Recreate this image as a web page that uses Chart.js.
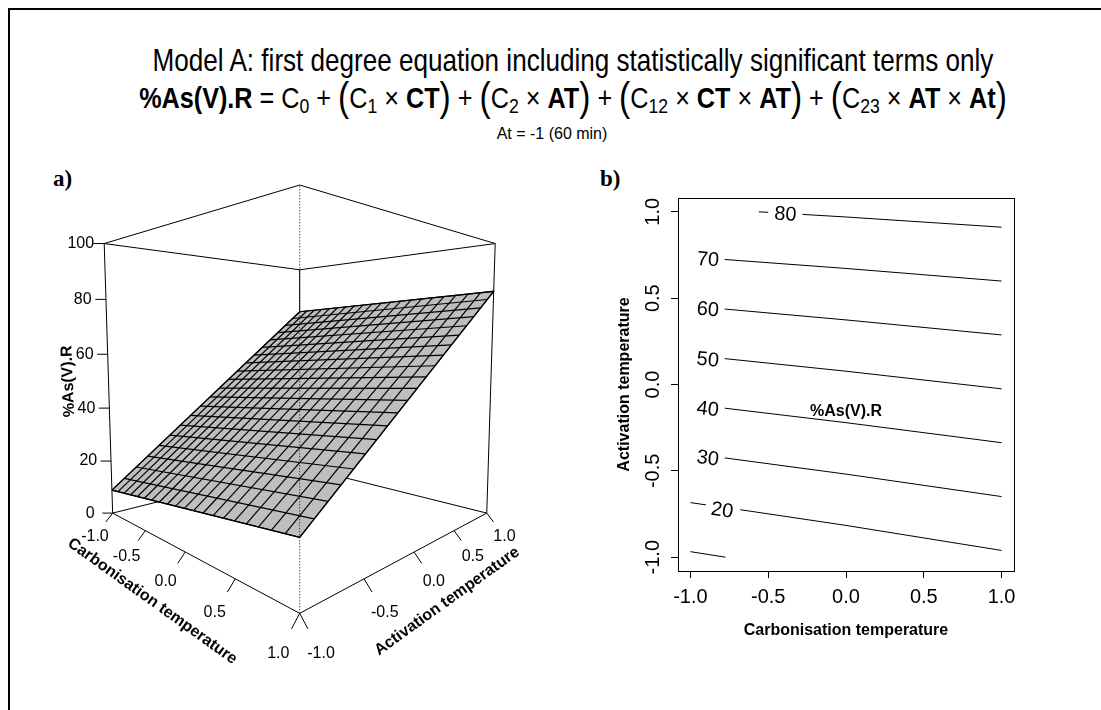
<!DOCTYPE html>
<html>
<head>
<meta charset="utf-8">
<title>Model A</title>
<script src="https://cdn.jsdelivr.net/npm/chart.js@4.4.1/dist/chart.umd.min.js"></script>
<style>
  html, body { margin: 0; padding: 0; background: #fff; }
  body { width: 1101px; height: 710px; position: relative; overflow: hidden; color: #000; }
  .frame { position: absolute; left: 8px; top: 8px; width: 1200px; height: 800px; border-left: 2px solid #000; border-top: 2px solid #000; }
  .hdr { position: absolute; left: 0; width: 1146px; text-align: center; white-space: nowrap;
         font-family: "Liberation Sans", Arial, sans-serif; transform-origin: 50% 50%; }
  #t1 { top: 42px; font-size: 32px; line-height: 36px; transform: scaleX(0.815); }
  #t2 { top: 78px; font-size: 30px; line-height: 40px; transform: scaleX(0.84); }
  #t2 .p { font-size: 40px; vertical-align: -3px; line-height: 0; }
  #t2 sub { font-size: 21px; vertical-align: -5px; line-height: 0; }
  #t3 { top: 126px; width: 1104px; font-size: 16px; line-height: 16px; }
  .tag { position: absolute; font: bold 23px/23px "Liberation Serif", "Times New Roman", serif; }
  canvas { position: absolute; }
</style>
</head>
<body>
<div class="frame"></div>
<div class="hdr" id="t1">Model A: first degree equation including statistically significant terms only</div>
<div class="hdr" id="t2"><b>%As(V).R</b> = C<sub>0</sub> + <span class="p">(</span>C<sub>1</sub> × <b>CT</b><span class="p">)</span> + <span class="p">(</span>C<sub>2</sub> × <b>AT</b><span class="p">)</span> + <span class="p">(</span>C<sub>12</sub> × <b>CT</b> × <b>AT</b><span class="p">)</span> + <span class="p">(</span>C<sub>23</sub> × <b>AT</b> × <b>At</b><span class="p">)</span></div>
<div class="hdr" id="t3">At = -1 (60 min)</div>
<div class="tag" style="left:53px; top:167px;">a)</div>
<div class="tag" style="left:600px; top:167px;">b)</div>
<canvas id="surf" width="580" height="560" style="left:0; top:150px;"></canvas>
<canvas id="cont" width="521" height="560" style="left:580px; top:150px;"></canvas>
<script>
// ---------- panel a) response surface at At = -1 ----------
const surfCT = [-1, 1, 1, -1];          // corners of the fitted surface
const surfAT = [-1, -1, 1, 1];
const surfZ = [8.9, 18.8, 82.9, 79.2];  // %As(V).R at those corners
const meshN = 20;
const zTicks = [0, 20, 40, 60, 80, 100];
const zTickLabels = ['0', '20', '40', '60', '80', '100'];
const ctTicks = [-1, -0.5, 0, 0.5, 1];
const atTicks = [-1, -0.5, 0, 0.5, 1];
const tickLabels = ['-1.0', '-0.5', '0.0', '0.5', '1.0'];

// ---------- panel b) contour lines ----------
const lvl80a = [[-0.56, 1.0], [-0.50, 0.997]];
const lvl80b = [[-0.28, 0.985], [0, 0.970], [1, 0.911]];
const lvl70 = [[-0.78, 0.724], [0, 0.672], [1, 0.599]];
const lvl60 = [[-0.78, 0.437], [0, 0.374], [1, 0.287]];
const lvl50 = [[-0.78, 0.150], [0, 0.077], [1, -0.025]];
const lvl40 = [[-0.78, -0.137], [0, -0.221], [1, -0.337]];
const lvl30 = [[-0.78, -0.425], [0, -0.519], [1, -0.649]];
const lvl20a = [[-1, -0.684], [-0.9, -0.697]];
const lvl20b = [[-0.68, -0.725], [0, -0.816], [1, -0.961]];
const lvl10 = [[-1, -0.968], [-0.775, -1.0]];
const levelLabels = ['80', '70', '60', '50', '40', '30', '20'];
const labelX = [-0.39, -0.887, -0.889, -0.889, -0.889, -0.889, -0.797];
const labelY = [0.983, 0.721, 0.432, 0.141, -0.145, -0.430, -0.731];
const xTicks = [-1, -0.5, 0, 0.5, 1];
const yTicks = [-1, -0.5, 0, 0.5, 1];
const axisLabels = ['-1.0', '-0.5', '0.0', '0.5', '1.0'];

const SANS = '"Liberation Sans", Arial, sans-serif';

// ---- view used by persp(): small tilt, strong perspective ----
const PHI = 4.78 * Math.PI / 180, EYE = 3.78;
const K = 511, CX = 299.7, CY = 381.3, A_TOP = 150, A_W = 580, A_H = 560;

function project(ct, at, z) {
  const Z = (z - 50) / 50;
  const h = (ct + at) / Math.SQRT2, q = (ct - at) / Math.SQRT2;
  const v = Z * Math.cos(PHI) - q * Math.sin(PHI);
  const w = Z * Math.sin(PHI) + q * Math.cos(PHI);
  return { x: h / (EYE - w), y: v / (EYE - w) };
}
function zAt(ct, at) {
  const u = (ct + 1) / 2, t = (at + 1) / 2;
  return (1 - u) * (1 - t) * surfZ[0] + u * (1 - t) * surfZ[1] + u * t * surfZ[2] + (1 - u) * t * surfZ[3];
}
function line3d(pts, extra) {
  return Object.assign({
    data: pts.map(p => project(p[0], p[1], p[2])),
    borderColor: '#000', borderWidth: 1, pointRadius: 0, fill: false, tension: 0
  }, extra);
}

const ds = [];
// box: every edge but the one nearest the viewer goes behind the surface
const corners = [[-1, -1], [1, -1], [1, 1], [-1, 1]];
for (let i = 0; i < 4; i++) {
  const a = corners[i], b = corners[(i + 1) % 4];
  ds.push(line3d([[a[0], a[1], 0], [b[0], b[1], 0]], { order: 100 }));
  ds.push(line3d([[a[0], a[1], 100], [b[0], b[1], 100]], { order: 100 }));
  if (!(a[0] === 1 && a[1] === -1)) ds.push(line3d([[a[0], a[1], 0], [a[0], a[1], 100]], { order: 100 }));
}
// surface patch
const outline = [0, 1, 2, 3, 0].map(i => [surfCT[i], surfAT[i], surfZ[i]]);
ds.push(line3d(outline, { order: 50, fill: 'shape', backgroundColor: '#bebebe', borderWidth: 1.2 }));
for (let i = 0; i <= meshN; i++) {
  const c = -1 + 2 * i / meshN;
  ds.push(line3d([[c, -1, zAt(c, -1)], [c, 1, zAt(c, 1)]], { order: 40, borderWidth: 1.2 }));
  ds.push(line3d([[-1, c, zAt(-1, c)], [1, c, zAt(1, c)]], { order: 40, borderWidth: 1.2 }));
}
// near vertical edge, dotted over the surface
ds.push(line3d([[1, -1, 0], [1, -1, 100]], { order: 10, borderDash: [1, 2] }));
// tick marks
const TICK = 0.055, LAB = 0.14, TTL = 0.23;
ctTicks.forEach(v => ds.push(line3d([[v, -1, 0], [v, -1 - TICK, -50 * TICK]], { order: 5 })));
atTicks.forEach(v => ds.push(line3d([[1, v, 0], [1 + TICK, v, -50 * TICK]], { order: 5 })));
zTicks.forEach(v => ds.push(line3d([[-1, -1, v], [-1 - TICK, -1 - TICK, v]], { order: 5 })));

const surfText = {
  id: 'surfText',
  afterDatasetsDraw(chart) {
    const { ctx, scales: { x: sx, y: sy } } = chart;
    const pix = (ct, at, z) => { const p = project(ct, at, z); return [sx.getPixelForValue(p.x), sy.getPixelForValue(p.y)]; };
    ctx.save();
    ctx.fillStyle = '#000';
    ctx.textAlign = 'center';
    ctx.textBaseline = 'middle';
    ctx.font = '16px ' + SANS;
    ctTicks.forEach((v, i) => { const [x, y] = pix(v, -1 - LAB, -50 * LAB); ctx.fillText(tickLabels[i], x, y); });
    atTicks.forEach((v, i) => { const [x, y] = pix(1 + LAB, v, -50 * LAB); ctx.fillText(tickLabels[i], x, y); });
    zTicks.forEach((v, i) => { const [x, y] = pix(-1.12, -1.12, v); ctx.fillText(zTickLabels[i], x, y); });
    ctx.font = 'bold 16px ' + SANS;
    const title = (text, p0, p1, pc) => {
      const ang = Math.atan2(p1[1] - p0[1], p1[0] - p0[0]);
      ctx.save(); ctx.translate(pc[0], pc[1]); ctx.rotate(ang); ctx.fillText(text, 0, 0); ctx.restore();
    };
    title('Carbonisation temperature', pix(-1, -1 - TTL, -50 * TTL), pix(1, -1 - TTL, -50 * TTL), pix(0, -1 - TTL, -50 * TTL));
    title('Activation temperature', pix(1 + TTL, -1, -50 * TTL), pix(1 + TTL, 1, -50 * TTL), pix(1 + TTL, 0, -50 * TTL));
    title('%As(V).R', pix(-1.21, -1.21, 0), pix(-1.21, -1.21, 100), pix(-1.21, -1.21, 50));
    ctx.restore();
  }
};

new Chart(document.getElementById('surf'), {
  type: 'line',
  data: { datasets: ds },
  options: {
    responsive: false, animation: false, events: [],
    layout: { padding: 0 },
    scales: {
      x: { type: 'linear', display: false, min: -CX / K, max: (A_W - CX) / K },
      y: { type: 'linear', display: false, min: (CY - A_TOP - A_H) / K, max: (CY - A_TOP) / K }
    },
    plugins: { legend: { display: false }, tooltip: { enabled: false }, filler: { drawTime: 'beforeDatasetDraw' } }
  },
  plugins: [surfText]
});

// ---------- contour chart ----------
const paths = [lvl80a, lvl80b, lvl70, lvl60, lvl50, lvl40, lvl30, lvl20a, lvl20b, lvl10];
const labelPaths = [lvl80b, lvl70, lvl60, lvl50, lvl40, lvl30, lvl20b];
const contSets = paths.map(p => ({
  data: p.map(q => ({ x: q[0], y: q[1] })),
  borderColor: '#000', borderWidth: 1, pointRadius: 0, fill: false, tension: 0
}));

const contText = {
  id: 'contText',
  afterDatasetsDraw(chart) {
    const { ctx, chartArea: a, scales: { x: sx, y: sy } } = chart;
    ctx.save();
    ctx.strokeStyle = '#000';
    ctx.lineWidth = 1;
    ctx.strokeRect(Math.round(a.left) + 0.5, Math.round(a.top) + 0.5, Math.round(a.right - a.left), Math.round(a.bottom - a.top));
    ctx.fillStyle = '#000';
    ctx.textAlign = 'center';
    ctx.textBaseline = 'middle';
    ctx.font = '20px ' + SANS;
    levelLabels.forEach((t, i) => {
      const p = labelPaths[i];
      const ang = Math.atan2(sy.getPixelForValue(p[1][1]) - sy.getPixelForValue(p[0][1]),
                             sx.getPixelForValue(p[1][0]) - sx.getPixelForValue(p[0][0]));
      ctx.save();
      ctx.translate(sx.getPixelForValue(labelX[i]), sy.getPixelForValue(labelY[i]));
      ctx.rotate(ang);
      ctx.fillText(t, 0, 0);
      ctx.restore();
    });
    yTicks.forEach((v, i) => {
      ctx.save();
      ctx.translate(a.left - 25, sy.getPixelForValue(v));
      ctx.rotate(-Math.PI / 2);
      ctx.fillText(axisLabels[i], 0, 0);
      ctx.restore();
    });
    ctx.font = 'bold 16px ' + SANS;
    const midX = (a.left + a.right) / 2, midY = (a.top + a.bottom) / 2;
    ctx.fillText('Carbonisation temperature', midX, a.bottom + 60);
    ctx.fillText('%As(V).R', midX, a.top + 214);
    ctx.save();
    ctx.translate(a.left - 53, midY);
    ctx.rotate(-Math.PI / 2);
    ctx.fillText('Activation temperature', 0, 0);
    ctx.restore();
    ctx.restore();
  }
};

new Chart(document.getElementById('cont'), {
  type: 'line',
  data: { datasets: contSets },
  options: {
    responsive: false, animation: false, events: [],
    layout: { padding: { left: 0, top: 48, right: 87, bottom: 59 } },
    scales: {
      x: {
        type: 'linear', min: -1.08, max: 1.08,
        afterFit: s => { s.height = 80; },
        afterBuildTicks: s => { s.ticks = xTicks.map(v => ({ value: v })); },
        grid: { drawOnChartArea: false, drawTicks: true, tickLength: 7, color: '#000', lineWidth: 1 },
        border: { display: false },
        ticks: { color: '#000', font: { size: 20, family: SANS }, padding: 7, maxRotation: 0, autoSkip: false,
                 callback: (v, i) => axisLabels[i] }
      },
      y: {
        type: 'linear', min: -1.08, max: 1.08,
        afterFit: s => { s.width = 98; },
        afterBuildTicks: s => { s.ticks = yTicks.map(v => ({ value: v })); },
        grid: { drawOnChartArea: false, drawTicks: true, tickLength: 7, color: '#000', lineWidth: 1 },
        border: { display: false },
        ticks: { display: false }
      }
    },
    plugins: { legend: { display: false }, tooltip: { enabled: false } }
  },
  plugins: [contText]
});
</script>
</body>
</html>
